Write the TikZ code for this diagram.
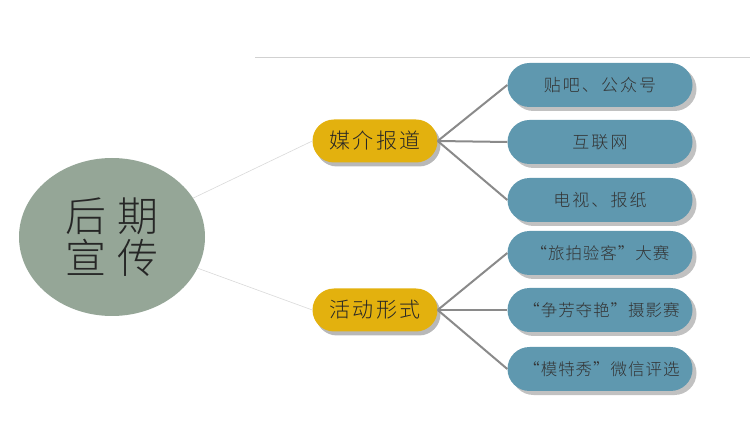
\documentclass[tikz,border=0pt]{standalone}
\usepackage{fontspec}
\setmainfont{Noto Sans CJK SC}
\newfontfamily\cjk[LetterSpace=12]{Noto Sans CJK SC Light}
\newfontfamily\cjkq[LetterSpace=6]{Noto Sans CJK SC Light}
\usetikzlibrary{shadows,shapes.misc,shapes.geometric}
\definecolor{ovalc}{HTML}{95A697}
\definecolor{yelc}{HTML}{E3B10E}
\definecolor{bluec}{HTML}{5F98AF}
\definecolor{txtc}{HTML}{333333}
\definecolor{linec}{HTML}{8A8A8A}
\tikzset{
  oval/.style={ellipse, fill=ovalc, minimum width=186pt, minimum height=158pt, inner sep=0pt,
    font=\fontsize{41}{46}\selectfont\cjk, text=black!85, align=center},
  catbox/.style={rounded rectangle, fill=yelc, minimum width=125pt, minimum height=43pt, inner sep=0pt,
    font=\fontsize{21}{24}\selectfont\cjk, text=black!85,
    drop shadow={shadow xshift=3pt, shadow yshift=-4pt, fill=black!35, opacity=0.8}},
  leafbox/.style={rounded rectangle, fill=bluec, minimum width=185pt, minimum height=44pt, inner sep=0pt,
    font=\fontsize{17}{20}\selectfont\cjk, text=txtc,
    drop shadow={shadow xshift=4pt, shadow yshift=-4pt, fill=black!30, opacity=0.8}},
  qleaf/.style={leafbox, font=\fontsize{16.5}{20}\selectfont\cjkq},
  thinl/.style={draw=black!15, line width=0.6pt},
  branch/.style={draw=linec, line width=2pt}
}
\begin{document}
\begin{tikzpicture}[x=1pt,y=-1pt]
\useasboundingbox (0,0) rectangle (750,438);
\coordinate (tl) at (255,57);
\coordinate (tr) at (750,57);
\draw[draw=black!18, line width=0.8pt] (tl) -- (tr);
\node[oval] (root) at (112,237) {后\hspace{0.25em}期\\[-4pt]宣\hspace{0.25em}传};
\node[catbox] (c1) at (375,141) {媒介报道};
\node[catbox] (c2) at (375,310) {活动形式};
\node[leafbox] (l1) at (600,85) {贴吧、公众号};
\node[leafbox] (l2) at (600,142) {互联网};
\node[leafbox] (l3) at (600,200) {电视、报纸};
\node[qleaf] (l4) at (600,253) {“旅拍验客”大赛};
\node[qleaf] (l5) at (600,310) {\hspace{3pt}“争芳夺艳”摄影赛};
\node[qleaf] (l6) at (600,369) {\hspace{3pt}“模特秀”微信评选};
\draw[thinl] (root) -- (c1.west);
\draw[thinl] (root) -- (c2.west);
\foreach \l in {l1,l2,l3} \draw[branch] (c1.east) -- (\l.west);
\foreach \l in {l4,l5,l6} \draw[branch] (c2.east) -- (\l.west);
\end{tikzpicture}
\end{document}
